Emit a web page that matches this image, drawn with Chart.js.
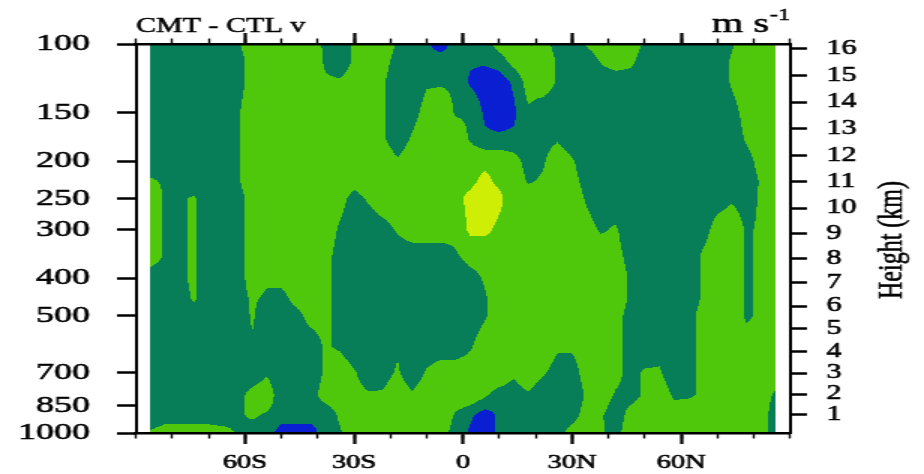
<!DOCTYPE html>
<html>
<head>
<meta charset="utf-8">
<title>CMT - CTL v</title>
<script src="https://cdn.jsdelivr.net/npm/chart.js@4.4.1/dist/chart.umd.min.js"></script>
<style>
  html, body { margin: 0; padding: 0; background: #fff; overflow: hidden; }
  /* the figure is laid out narrow and widened 1.5x, like the original plot */
  #wrap { position: absolute; left: 0; top: 0; width: 616px; height: 474px;
          transform: scaleX(1.5); transform-origin: 0 0; }
</style>
</head>
<body>
<div id="wrap"><canvas id="cmtChart"></canvas></div>
<script>
// grid columns, latitude in degrees (south negative)
const lats = [-86, -82, -78, -74, -70, -66, -62, -58, -54, -50, -46,
              -42, -38, -34, -30, -26, -22, -18, -14, -10, -6, -2,
              2, 6, 10, 14, 18, 22, 26, 30, 34, 38, 42,
              46, 50, 54, 58, 62, 66, 70, 74, 78, 82, 86];

// grid rows, pressure in hPa, top of the plot first
const levels = [100, 110, 125, 150, 175, 200, 225, 250, 300, 350,
                400, 450, 500, 600, 700, 800, 900, 1000];

// v difference per grid point, one digit each: v = (digit - 4.5) / 3 m/s
const vCodes = [
  "22222247777642577422032367763257774222224777", // 100
  "22222236777742576322322236774225762222225777", // 110
  "22222236777755675224441002674222222222225777", // 125
  "22222247777777775236744101422222222222223677", // 150
  "22222247777777775257774222234222222222222577", // 175
  "22222247777777777577777776347522222222222367", // 200
  "54222247777777677777777877457632222222222257", // 225
  "74452236777776357777778986777742222222234357", // 250
  "74452236777774223577768877777764522222367457", // 300
  "74452236777763222222246677777777632222577457", // 350
  "22452236567763222222223577777777742222577457", // 400
  "22352235436763222222222477777777742222577457", // 450
  "22232225223663222222222477777777632223677457", // 500
  "22222224222254222422224777775567632323677677", // 600
  "22222222422257523525777775753367635523677776", // 700
  "22222236722367655757777533422257435744577764", // 800
  "23333245433325777777742022222365267767777763", // 900
  "56666643300034777777631022223675377777777763"  // 1000
];

const contourLevels = [-1, 0, 1];
const fillColors = ['#0a1fd2', '#077e58', '#4fc80b', '#cfee06'];

const pressureTicks = [1000, 850, 700, 500, 400, 300, 250, 200, 150, 100];
const heightKm = [1, 2, 3, 4, 5, 6, 7, 8, 9, 10, 11, 12, 13, 14, 15, 16];
const latTicks = [-60, -30, 0, 30, 60];
const latLabels = ['60S', '30S', '0', '30N', '60N'];
const latMinorTicks = [-90, -80, -70, -60, -50, -40, -30, -20, -10, 0,
                       10, 20, 30, 40, 50, 60, 70, 80, 90];

const grid = vCodes.map(row => Array.from(row, ch => (Number(ch) - 4.5) / 3));

// standard atmosphere, pressure (hPa) at height km
function stdPressure(km) {
  const m = km * 1000;
  if (m <= 11000) return 1013.25 * Math.pow(1 - 2.25577e-5 * m, 5.25588);
  return 226.32 * Math.exp(-(m - 11000) / 6341.62);
}

function binOf(v) {
  let k = 0;
  while (k < contourLevels.length && v >= contourLevels[k]) k++;
  return k;
}

// filled contours: bilinear values inside each grid cell, painted in runs
const contourFill = {
  id: 'contourFill',
  beforeDraw(chart) {
    const ctx = chart.ctx;
    const xs = chart.scales.x, ys = chart.scales.y;
    const xExact = lats.map(v => xs.getPixelForValue(v));
    const yExact = levels.map(v => ys.getPixelForValue(v));
    const xPix = xExact.map(Math.round), yPix = yExact.map(Math.round);
    ctx.save();
    for (let j = 0; j < levels.length - 1; j++) {
      for (let i = 0; i < lats.length - 1; i++) {
        const a = grid[j][i], b = grid[j][i + 1];
        const c = grid[j + 1][i], d = grid[j + 1][i + 1];
        const dy = yExact[j + 1] - yExact[j], dx = xExact[i + 1] - xExact[i];
        for (let py = yPix[j]; py < yPix[j + 1]; py++) {
          const t = (py + 0.5 - yExact[j]) / dy;
          const l = a + (c - a) * t, r = b + (d - b) * t;
          let start = xPix[i], cur = -1;
          for (let px = xPix[i]; px < xPix[i + 1]; px++) {
            const s = (px + 0.5 - xExact[i]) / dx;
            const k = binOf(l + (r - l) * s);
            if (k !== cur) {
              if (cur >= 0) {
                ctx.fillStyle = fillColors[cur];
                ctx.fillRect(start, py, px - start, 1);
              }
              start = px;
              cur = k;
            }
          }
          ctx.fillStyle = fillColors[cur];
          ctx.fillRect(start, py, xPix[i + 1] - start, 1);
        }
      }
    }
    ctx.restore();
  }
};

// heavier text: fill plus a thin outline
function boldText(ctx, text, x, y) {
  ctx.fillText(text, x, y);
  ctx.strokeText(text, x, y);
}

// titles and the height label
const headings = {
  id: 'headings',
  afterDraw(chart) {
    const { ctx, chartArea: a } = chart;
    ctx.save();
    ctx.fillStyle = '#000';
    ctx.strokeStyle = '#000';
    ctx.lineWidth = 0.5;
    ctx.textBaseline = 'alphabetic';
    ctx.font = '20px "Liberation Serif"';
    ctx.textAlign = 'left';
    boldText(ctx, 'CMT - CTL v', a.left, 32);
    ctx.textAlign = 'right';
    ctx.font = '16px "Liberation Serif"';
    boldText(ctx, '-1', a.right, 20);
    const supW = ctx.measureText('-1').width;
    ctx.font = '27px "Liberation Serif"';
    boldText(ctx, 'm s', a.right - supW - 0.5, 32);
    ctx.translate(595, 240);
    ctx.rotate(-Math.PI / 2);
    ctx.textAlign = 'center';
    ctx.textBaseline = 'middle';
    ctx.font = '24px "Liberation Serif"';
    boldText(ctx, 'Height (km)', 0, 0);
    ctx.restore();
  }
};

Chart.defaults.font.family = '"Liberation Serif", "Times New Roman", serif';
Chart.defaults.color = '#000';

const noGrid = (len, w) => ({ drawOnChartArea: false, drawTicks: true, tickLength: len,
                             tickWidth: w, tickColor: '#000' });
const inked = { textStrokeColor: '#000', textStrokeWidth: 0.6 };

new Chart(document.getElementById('cmtChart'), {
  type: 'scatter',
  data: { datasets: [] },
  plugins: [contourFill, headings],
  options: {
    responsive: true,
    maintainAspectRatio: false,
    animation: false,
    events: [],
    layout: { padding: 0, autoPadding: false },
    plugins: { legend: { display: false }, tooltip: { enabled: false } },
    scales: {
      x: {
        type: 'linear', position: 'bottom', min: -90, max: 90, weight: 1,
        afterBuildTicks: s => { s.ticks = latTicks.map(v => ({ value: v })); },
        afterFit: s => { s.height = 41; },
        grid: noGrid(11, 2.2),
        border: { display: true, color: '#000', width: 2.5 },
        ticks: { ...inked, font: { size: 19 }, padding: 8, maxRotation: 0, autoSkip: false,
                 callback: (v, i) => latLabels[i] }
      },
      xMinor: {
        type: 'linear', position: 'bottom', min: -90, max: 90, weight: 0,
        afterBuildTicks: s => { s.ticks = latMinorTicks.map(v => ({ value: v })); },
        afterFit: s => { s.height = 0; },
        grid: noGrid(5.5, 1.4),
        border: { display: false },
        ticks: { display: false }
      },
      xTop: {
        type: 'linear', position: 'top', min: -90, max: 90, weight: 1,
        afterBuildTicks: s => { s.ticks = latTicks.map(v => ({ value: v })); },
        afterFit: s => { s.height = 44; },
        grid: noGrid(11, 2.2),
        border: { display: true, color: '#000', width: 2.5 },
        ticks: { display: false }
      },
      xTopMinor: {
        type: 'linear', position: 'top', min: -90, max: 90, weight: 0,
        afterBuildTicks: s => { s.ticks = latMinorTicks.map(v => ({ value: v })); },
        afterFit: s => { s.height = 0; },
        grid: noGrid(5.5, 1.4),
        border: { display: false },
        ticks: { display: false }
      },
      y: {
        type: 'logarithmic', position: 'left', reverse: true, min: 100, max: 1000,
        afterBuildTicks: s => { s.ticks = pressureTicks.map(v => ({ value: v })); },
        afterFit: s => { s.width = 90.67; },
        grid: noGrid(12.7, 2.5),
        border: { display: true, color: '#000', width: 2 },
        ticks: { ...inked, font: { size: 24 }, padding: 18, autoSkip: false,
                 callback: v => String(v) }
      },
      yH: {
        type: 'logarithmic', position: 'right', reverse: true, min: 100, max: 1000,
        afterBuildTicks: s => { s.ticks = heightKm.map(z => ({ value: stdPressure(z) })); },
        afterFit: s => { s.width = 89.33; },
        grid: noGrid(11.3, 2.5),
        border: { display: true, color: '#000', width: 2 },
        ticks: { ...inked, font: { size: 20 }, padding: 13, autoSkip: false,
                 callback: (v, i) => String(heightKm[i]) }
      }
    }
  }
});
</script>
</body>
</html>
